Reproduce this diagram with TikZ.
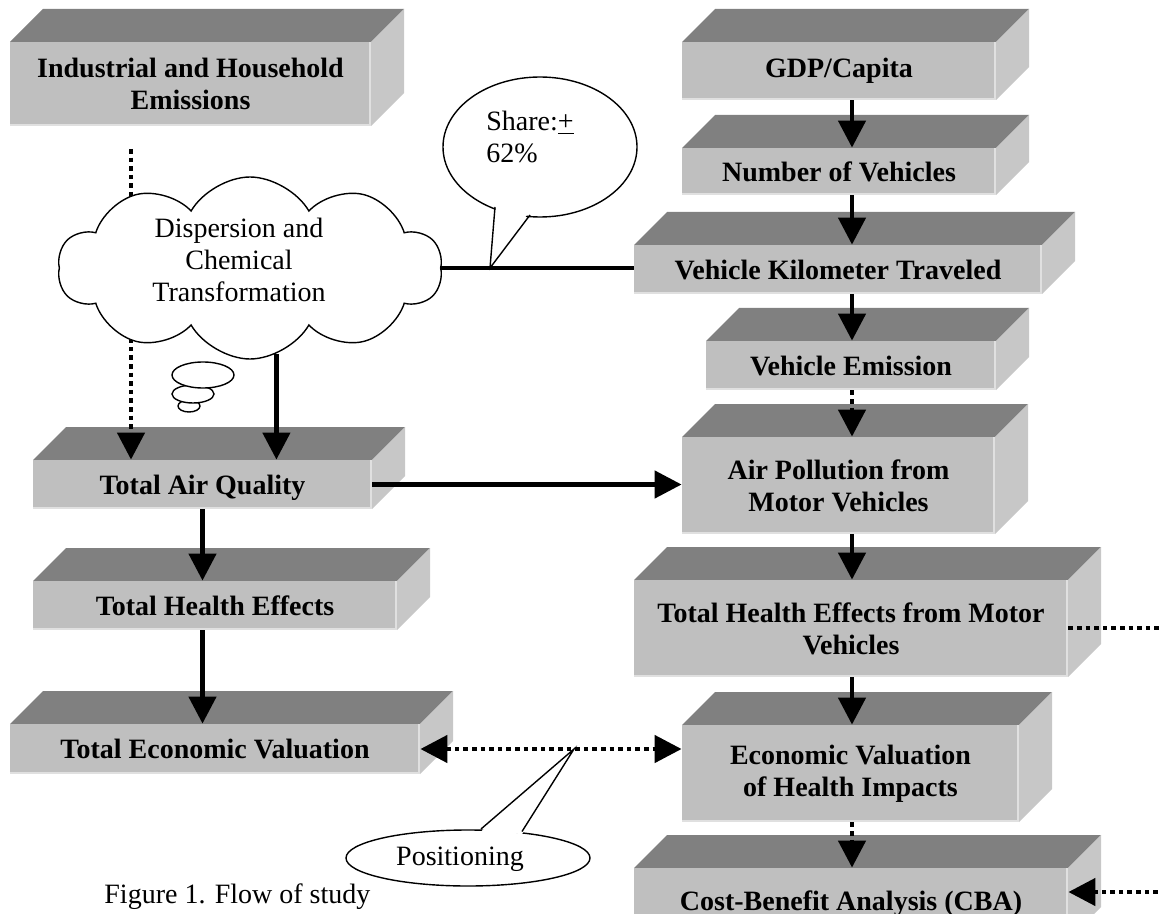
\documentclass[tikz,border=0pt]{standalone}
\usepackage{fontspec}
\setmainfont{Liberation Serif}
\usetikzlibrary{arrows.meta,shapes.symbols,shapes.geometric}
\tikzset{
  topface/.style={fill=black!50},
  sideface/.style={fill=black!22},
  frontface/.style={fill=black!25},
  edgeline/.style={draw=black!12, line width=0.8pt},
  boxtext/.style={inner sep=0pt, align=center, font=\fontsize{14}{16}\selectfont\bfseries},
  plaintext/.style={inner sep=0pt, font=\fontsize{14}{16}\selectfont},
  thinline/.style={line width=0.7pt},
  conn/.style={line width=2.3pt},
  arr/.style={conn, -{Triangle[width=13.5pt,length=13.5pt]}},
  dotconn/.style={line width=2.3pt, dash pattern=on 2.3pt off 2pt},
  dotarr/.style={dotconn, -{Triangle[width=13.5pt,length=13.5pt]}},
  dotboth/.style={dotconn, {Triangle[width=13.5pt,length=13.5pt]}-{Triangle[width=13.5pt,length=13.5pt]}},
}
% #1 node options, #2 name, #3 x1, #4 y1, #5 x2, #6 y2, #7 text
\newcommand\threebox[7][]{%
  \fill[topface] (#3,#4) -- (#3+33,#4-33) -- (#5+33,#4-33) -- (#5,#4) -- cycle;
  \fill[sideface] (#5,#4) -- (#5+33,#4-33) -- (#5+33,#6-33) -- (#5,#6) -- cycle;
  \fill[frontface] (#3,#4) rectangle (#5,#6);
  \draw[edgeline] (#3,#6-1) -- (#5-1,#6-1) -- (#5-1,#4);
  \node[boxtext, minimum width={(#5-#3)*0.5pt}, minimum height={(#6-#4)*0.5pt}, #1] (#2) at ({(#3+#5)/2},{(#4+#6)/2}) {#7};
}
\begin{document}
\begin{tikzpicture}[x=0.5pt,y=-0.5pt]
\useasboundingbox (0,0) rectangle (1160,914);
\clip (0,0) rectangle (1160,914);

% ---- boxes ----
\threebox{ind}{10}{42}{371}{126}{Industrial and Household\\Emissions}
\threebox{gdp}{682}{42}{996}{100}{GDP/Capita}
\threebox{nov}{682}{148}{996}{195}{Number of Vehicles}
\threebox{vkt}{634}{245}{1042}{294}{Vehicle Kilometer Traveled}
\threebox{ve}{706}{341}{996}{390}{Vehicle Emission}
\threebox{ap}{682}{437}{995}{534}{Air Pollution from\\Motor Vehicles}
\threebox{themv}{634}{580}{1068}{677}{Total Health Effects from Motor\\Vehicles}
\threebox{evhi}{682}{725}{1019}{822}{Economic Valuation\\of Health Impacts}
\threebox{cba}{634}{868}{1068}{940}{Cost-Benefit Analysis (CBA)}
\threebox{taq}{33}{460}{372}{509}{}
\begin{scope}
  \clip (33,460) rectangle (372,499);
  \node[boxtext] (taqtext) at (202.5,488) {Total Air Quality};
\end{scope}
\threebox{the}{33}{581}{397}{630}{Total Health Effects}
\threebox{tev}{10}{724}{420}{774}{Total Economic Valuation}

% ---- left column connectors ----
\coordinate (indout) at (131,149);
\draw[dotarr] (indout) -- (indout |- taq.north);

% cloud
\node[cloud, draw, fill=white, thinline, cloud puffs=10, cloud puff arc=120, aspect=2.1,
      minimum width=192pt, minimum height=91pt, inner sep=0pt] (cloud) at (250,268) {};
\node[plaintext, align=center] (cloudtext) at (239,260) {Dispersion and\\Chemical\\Transformation};
% thought bubbles
\node[ellipse, draw, fill=white, thinline, minimum width=11pt, minimum height=6pt, inner sep=0pt] (b3) at (189,406) {};
\node[ellipse, draw, fill=white, thinline, minimum width=21pt, minimum height=9pt, inner sep=0pt] (b2) at (193,394) {};
\node[ellipse, draw, fill=white, thinline, minimum width=31pt, minimum height=13pt, inner sep=0pt] (b1) at (203,375) {};

\draw[arr] (cloud.-73) -- (cloud.-73 |- taq.north);
\draw[conn] (cloud.east) -- (cloud.east -| vkt.west);

\draw[arr] (taq.east) -- (taq.east -| ap.west);
\draw[arr] (taq.south) -- (taq.south |- the.north);
\draw[arr] (the.south -| taq.south) -- (taq.south |- tev.north);

% ---- right column connectors ----
\coordinate (rx) at (852,0);
\draw[arr] (gdp.south -| rx) -- (nov.north -| rx);
\draw[arr] (nov.south -| rx) -- (vkt.north -| rx);
\draw[arr] (vkt.south -| rx) -- (ve.north -| rx);
\draw[dotarr] (ve.south -| rx) -- (ap.north -| rx);
\draw[arr] (ap.south -| rx) -- (themv.north -| rx);
\draw[arr] (themv.south -| rx) -- (evhi.north -| rx);
\draw[dotarr] (evhi.south -| rx) -- (cba.north -| rx);

\draw[dotboth] (tev.east) -- (tev.east -| evhi.west);

\coordinate (offr1) at (1175,628);
\draw[dotconn] (themv.east |- offr1) -- (offr1);
\coordinate (offr2) at (1175,892);
\draw[dotarr] (offr2) -- (offr2 -| cba.east);

% ---- Share callout ----
\coordinate (sharetip) at (490,268);
\node[ellipse, draw, fill=white, thinline, minimum width=97pt, minimum height=70pt, inner sep=0pt] (share) at (540,147) {};
\fill[white] (496,204) -- (sharetip) -- (529,212) -- cycle;
\draw[thinline, line join=miter] (495,207) -- (sharetip) -- (530,215);
\node[plaintext, align=left, anchor=north west] (sharetext) at (486,111) {Share:\underline{+}\\62\%};

% ---- Positioning callout ----
\coordinate (postip) at (574,749);
\node[ellipse, draw, fill=white, thinline, minimum width=122pt, minimum height=28pt, inner sep=0pt] (pos) at (468,858) {};
\fill[white] (481,831.5) -- (postip) -- (522,834) -- cycle;
\draw[thinline] (481,829) -- (postip) -- (522,831.5);
\node[plaintext] (postext) at (460,859) {Positioning};

% ---- caption ----
\node[plaintext, anchor=base west] (caption) at (104,903) {Figure 1. Flow of study};
\end{tikzpicture}
\end{document}
